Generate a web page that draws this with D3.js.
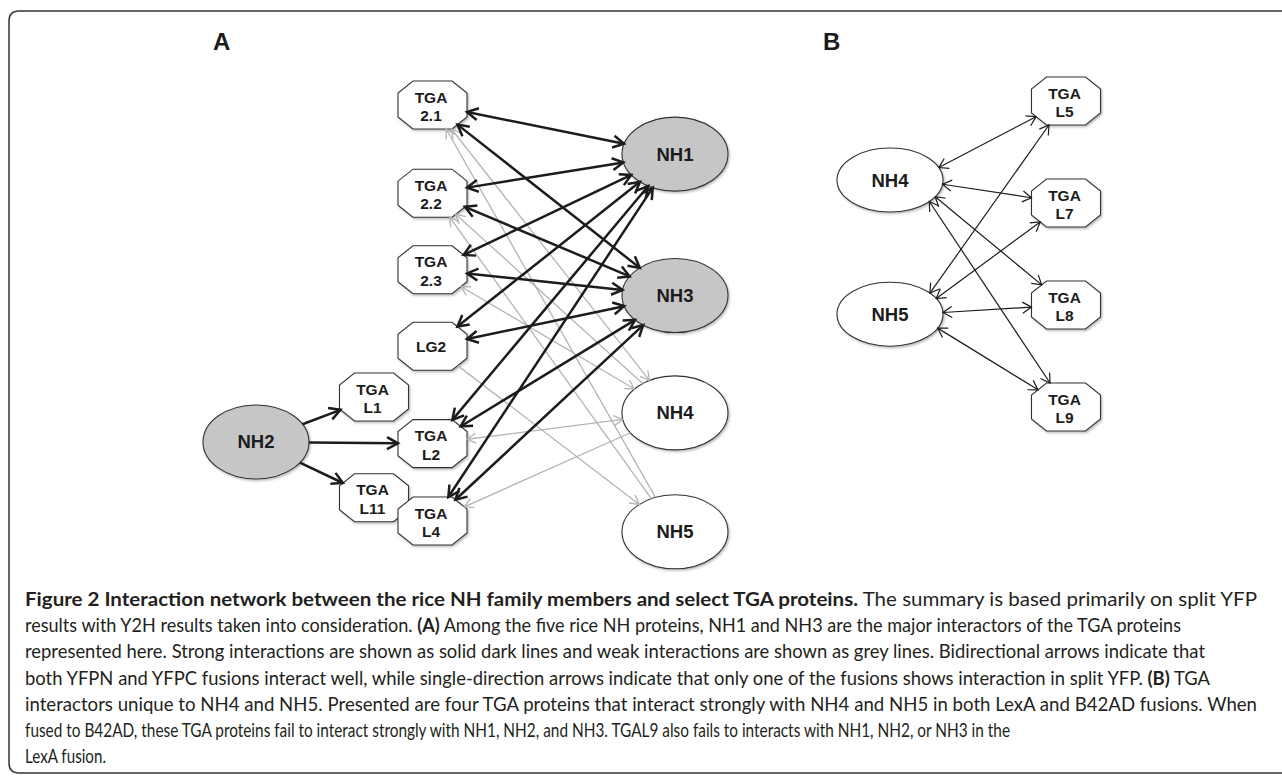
<!DOCTYPE html>
<html>
<head>
<meta charset="utf-8">
<script src="https://cdn.jsdelivr.net/npm/d3@7"></script>
<style>
body { margin: 0; background: #fff; }
</style>
</head>
<body>
<svg id="fig" width="1282" height="776"></svg>
<script>
// ---- data ----
var panelLabels = ["A", "B"];

// panel A nodes
var tgaNodesA = ["TGA 2.1", "TGA 2.2", "TGA 2.3", "LG2", "TGA L1", "TGA L2", "TGA L11", "TGA L4"];
var nhNodesA = ["NH1", "NH2", "NH3", "NH4", "NH5"];
var majorNH = ["NH1", "NH2", "NH3"];   // drawn grey

// panel A edges: strong, bidirectional
var strongEdgesA = [
    ["TGA 2.1", "NH1"], ["TGA 2.2", "NH1"], ["TGA 2.3", "NH1"],
    ["LG2", "NH1"], ["TGA L2", "NH1"], ["TGA L4", "NH1"],
    ["TGA 2.1", "NH3"], ["TGA 2.2", "NH3"], ["TGA 2.3", "NH3"],
    ["LG2", "NH3"], ["TGA L2", "NH3"], ["TGA L4", "NH3"]
];
// strong, single direction
var nh2EdgesA = [["NH2", "TGA L1"], ["NH2", "TGA L2"], ["NH2", "TGA L11"]];
// weak edges: source, target, arrows ("both" or "end")
var weakEdgesA = [
    ["NH4", "TGA 2.1", "both"], ["NH5", "TGA 2.1", "end"],
    ["NH4", "TGA 2.2", "end"], ["NH5", "TGA 2.2", "end"],
    ["NH4", "TGA 2.3", "both"], ["LG2", "NH5", "end"],
    ["NH4", "TGA L2", "both"], ["NH4", "TGA L4", "end"]
];

// panel B
var tgaNodesB = ["TGA L5", "TGA L7", "TGA L8", "TGA L9"];
var nhNodesB = ["NH4", "NH5"];
var edgesB = [
    ["NH4", "TGA L5"], ["NH4", "TGA L7"], ["NH4", "TGA L8"], ["NH4", "TGA L9"],
    ["NH5", "TGA L5"], ["NH5", "TGA L7"], ["NH5", "TGA L8"], ["NH5", "TGA L9"]
];

var captionBold = "Figure 2 Interaction network between the rice NH family members and select TGA proteins.";
var captionLines = [
    " The summary is based primarily on split YFP",
    "results with Y2H results taken into consideration. |(A)| Among the five rice NH proteins, NH1 and NH3 are the major interactors of the TGA proteins",
    "represented here. Strong interactions are shown as solid dark lines and weak interactions are shown as grey lines. Bidirectional arrows indicate that",
    "both YFPN and YFPC fusions interact well, while single-direction arrows indicate that only one of the fusions shows interaction in split YFP. |(B)| TGA",
    "interactors unique to NH4 and NH5. Presented are four TGA proteins that interact strongly with NH4 and NH5 in both LexA and B42AD fusions. When",
    "fused to B42AD, these TGA proteins fail to interact strongly with NH1, NH2, and NH3. TGAL9 also fails to interacts with NH1, NH2, or NH3 in the",
    "LexA fusion."
];

// ---- layout (column name, row units) ----
var layoutA = {
    "TGA 2.1": ["tga", 0], "TGA 2.2": ["tga", 1.06], "TGA 2.3": ["tga", 1.98],
    "LG2": ["tga", 2.9], "TGA L2": ["tga", 4.07], "TGA L4": ["tga", 5],
    "TGA L1": ["side", 3.51], "TGA L11": ["side", 4.72],
    "NH2": ["hub", 4.05],
    "NH1": ["nh", 0.59], "NH3": ["nh", 2.29], "NH4": ["nh", 3.7], "NH5": ["nh", 5.13]
};
var layoutB = {
    "TGA L5": ["tga", 0], "TGA L7": ["tga", 1], "TGA L8": ["tga", 2], "TGA L9": ["tga", 3],
    "NH4": ["nh", 0.775], "NH5": ["nh", 2.09]
};
// right end of each caption line
var captionEnds = [1257, 1181, 1205, 1210, 1257, 1010, 106];

var xA = d3.scaleOrdinal().domain(["hub", "side", "tga", "nh"]).range([256, 374, 432.5, 675]);
var yA = d3.scaleLinear().domain([0, 5]).range([105, 521]);
var xB = d3.scaleOrdinal().domain(["nh", "tga"]).range([890, 1066]);
var yB = d3.scaleLinear().domain([0, 3]).range([101, 407]);

var svg = d3.select('#fig');
var defs = svg.append('defs');

var shadow = defs.append('filter').attr('id', 'shadow')
    .attr('x', '-20%').attr('y', '-20%').attr('width', '140%').attr('height', '140%');
shadow.append('feDropShadow')
    .attr('dx', 1.2).attr('dy', 1.5).attr('stdDeviation', 1.2)
    .attr('flood-color', '#000').attr('flood-opacity', 0.28);

function addMarker(id, color, len, half, width) {
    defs.append('marker')
        .attr('id', id)
        .attr('markerUnits', 'userSpaceOnUse')
        .attr('viewBox', '0 0 ' + (len + 4) + ' ' + (2 * half + 4))
        .attr('markerWidth', len + 4)
        .attr('markerHeight', 2 * half + 4)
        .attr('refX', len + 1)
        .attr('refY', half + 2)
        .attr('orient', 'auto-start-reverse')
        .append('path')
        .attr('d', 'M2,2 L' + (len + 1) + ',' + (half + 2) + ' L2,' + (2 * half + 2))
        .attr('fill', 'none')
        .attr('stroke', color)
        .attr('stroke-width', width);
}
addMarker('arrDark', '#1c1c1c', 12, 6, 2.5);
addMarker('arrGrey', '#b4b4b4', 10, 5, 1.3);
addMarker('arrThin', '#1c1c1c', 10, 5.5, 1.2);

// frame
svg.append('path')
    .attr('d', 'M1292,11 H19 Q9,11 9,21 V763 Q9,773 19,773 H1292')
    .attr('fill', 'none').attr('stroke', '#333').attr('stroke-width', 1.5);

// panel letters
svg.selectAll('text.panel').data(panelLabels).enter()
    .append('text')
    .attr('class', 'panel')
    .attr('x', function(d, i) { return i === 0 ? 213 : 823; })
    .attr('y', 50)
    .attr('font-family', 'Liberation Sans, Arial, sans-serif')
    .attr('font-weight', 'bold')
    .attr('font-size', 24)
    .attr('fill', '#1c1c1c')
    .text(function(d) { return d; });

// ---- geometry ----
var OCT = { hw: 34.5, hh: 24, cx: 15, cy: 12 };
function octPoints() {
    var o = OCT;
    return [[-o.hw + o.cx, -o.hh], [o.hw - o.cx, -o.hh], [o.hw, -o.hh + o.cy], [o.hw, o.hh - o.cy],
            [o.hw - o.cx, o.hh], [-o.hw + o.cx, o.hh], [-o.hw, o.hh - o.cy], [-o.hw, -o.hh + o.cy]];
}

// where a ray from (ox, oy) inside the node, direction (dx, dy), leaves it
function boundary(node, ox, oy, dx, dy) {
    var px = ox - node.x, py = oy - node.y;
    if (node.shape === 'ellipse') {
        var rx2 = node.rx * node.rx, ry2 = node.ry * node.ry;
        var a = dx * dx / rx2 + dy * dy / ry2;
        var b = 2 * (px * dx / rx2 + py * dy / ry2);
        var c = px * px / rx2 + py * py / ry2 - 1;
        var t = (-b + Math.sqrt(b * b - 4 * a * c)) / (2 * a);
        return [ox + dx * t, oy + dy * t];
    }
    var pts = octPoints(), best = Infinity;
    for (var i = 0; i < pts.length; i++) {
        var p = pts[i], q = pts[(i + 1) % pts.length];
        var ex = q[0] - p[0], ey = q[1] - p[1];
        var den = dx * ey - dy * ex;
        if (Math.abs(den) < 1e-9) continue;
        var wx = p[0] - px, wy = p[1] - py;
        var tt = (wx * ey - wy * ex) / den;
        var s = (wx * dy - wy * dx) / den;
        if (tt > 0 && s >= 0 && s <= 1 && tt < best) best = tt;
    }
    return [ox + dx * best, oy + dy * best];
}

function buildNodes(tgas, nhs, layout, xs, ys, ry, anchorDx) {
    var nodes = {};
    tgas.forEach(function(name) {
        nodes[name] = { name: name, shape: 'oct', ax: 0,
            x: xs(layout[name][0]), y: ys(layout[name][1]) };
    });
    nhs.forEach(function(name) {
        nodes[name] = { name: name, shape: 'ellipse', rx: 53, ry: ry, ax: anchorDx,
            x: xs(layout[name][0]), y: ys(layout[name][1]) };
    });
    return nodes;
}

var nodesA = buildNodes(tgaNodesA, nhNodesA, layoutA, xA, yA, 37, 0);
var nodesB = buildNodes(tgaNodesB, nhNodesB, layoutB, xB, yB, 32, 25);

function drawNodes(g, nodes, fillFor) {
    var list = Object.keys(nodes).map(function(k) { return nodes[k]; });
    var octs = g.selectAll('g.oct').data(list.filter(function(d) { return d.shape === 'oct'; }))
        .enter().append('g').attr('class', 'oct')
        .attr('transform', function(d) { return 'translate(' + d.x + ',' + d.y + ')'; });
    octs.append('polygon')
        .attr('points', octPoints().map(function(p) { return p.join(','); }).join(' '))
        .attr('fill', '#fff').attr('stroke', '#333').attr('stroke-width', 1.1)
        .attr('filter', 'url(#shadow)');
    octs.each(function(d) {
        var parts = d.name.split(' ');
        var sel = d3.select(this);
        parts.forEach(function(p, i) {
            sel.append('text')
                .attr('x', -1.5)
                .attr('y', parts.length === 1 ? 5.5 : (i === 0 ? -2.5 : 16))
                .attr('text-anchor', 'middle')
                .attr('font-family', 'Liberation Sans, Arial, sans-serif')
                .attr('font-weight', 'bold')
                .attr('font-size', 15.5)
                .attr('fill', '#1c1c1c')
                .text(p);
        });
    });
    var ells = g.selectAll('g.ell').data(list.filter(function(d) { return d.shape === 'ellipse'; }))
        .enter().append('g').attr('class', 'ell')
        .attr('transform', function(d) { return 'translate(' + d.x + ',' + d.y + ')'; });
    ells.append('ellipse')
        .attr('rx', function(d) { return d.rx; })
        .attr('ry', function(d) { return d.ry; })
        .attr('fill', fillFor)
        .attr('stroke', '#333').attr('stroke-width', 1.1)
        .attr('filter', 'url(#shadow)');
    ells.append('text')
        .attr('y', 6.5)
        .attr('text-anchor', 'middle')
        .attr('font-family', 'Liberation Sans, Arial, sans-serif')
        .attr('font-weight', 'bold')
        .attr('font-size', 18.5)
        .attr('fill', '#1c1c1c')
        .text(function(d) { return d.name; });
}

function drawEdges(g, nodes, edges, style) {
    g.selectAll(null).data(edges).enter()
        .append('line')
        .each(function(e) {
            var s = nodes[e[0]], t = nodes[e[1]];
            var sx = s.x + s.ax, tx = t.x + t.ax;
            var dx = tx - sx, dy = t.y - s.y;
            var p0 = boundary(s, sx, s.y, dx, dy), p1 = boundary(t, tx, t.y, -dx, -dy);
            var sel = d3.select(this)
                .attr('x1', p0[0]).attr('y1', p0[1])
                .attr('x2', p1[0]).attr('y2', p1[1])
                .attr('stroke', style.color)
                .attr('stroke-width', style.width)
                .attr('marker-end', 'url(#' + style.marker + ')');
            if ((e[2] || style.arrows) === 'both') sel.attr('marker-start', 'url(#' + style.marker + ')');
        });
}

var gA = svg.append('g');
drawNodes(gA, nodesA, function(d) { return majorNH.indexOf(d.name) >= 0 ? '#c6c6c6' : '#fff'; });
drawEdges(gA, nodesA, weakEdgesA, { color: '#b4b4b4', width: 1.3, marker: 'arrGrey' });
drawEdges(gA, nodesA, strongEdgesA, { color: '#1c1c1c', width: 2.5, marker: 'arrDark', arrows: 'both' });
drawEdges(gA, nodesA, nh2EdgesA, { color: '#1c1c1c', width: 2.5, marker: 'arrDark', arrows: 'end' });

var gB = svg.append('g');
drawNodes(gB, nodesB, function() { return '#fff'; });
drawEdges(gB, nodesB, edgesB, { color: '#1c1c1c', width: 1.2, marker: 'arrThin', arrows: 'both' });

// ---- caption ----
var capX = 25;
var cap = svg.append('g')
    .attr('font-family', 'Lato, Open Sans, sans-serif')
    .attr('font-size', 19)
    .attr('fill', '#231f20');
captionLines.forEach(function(line, i) {
    var t = cap.append('text').attr('x', capX).attr('y', 606 + i * 26.2)
        .attr('xml:space', 'preserve');
    if (i === 0) t.append('tspan').attr('font-weight', 'bold').text(captionBold);
    line.split('|').forEach(function(seg, j) {
        t.append('tspan').attr('font-weight', j % 2 === 1 ? 'bold' : 'normal').text(seg);
    });
    t.attr('textLength', captionEnds[i] - capX).attr('lengthAdjust', 'spacingAndGlyphs');
});
</script>
</body>
</html>
